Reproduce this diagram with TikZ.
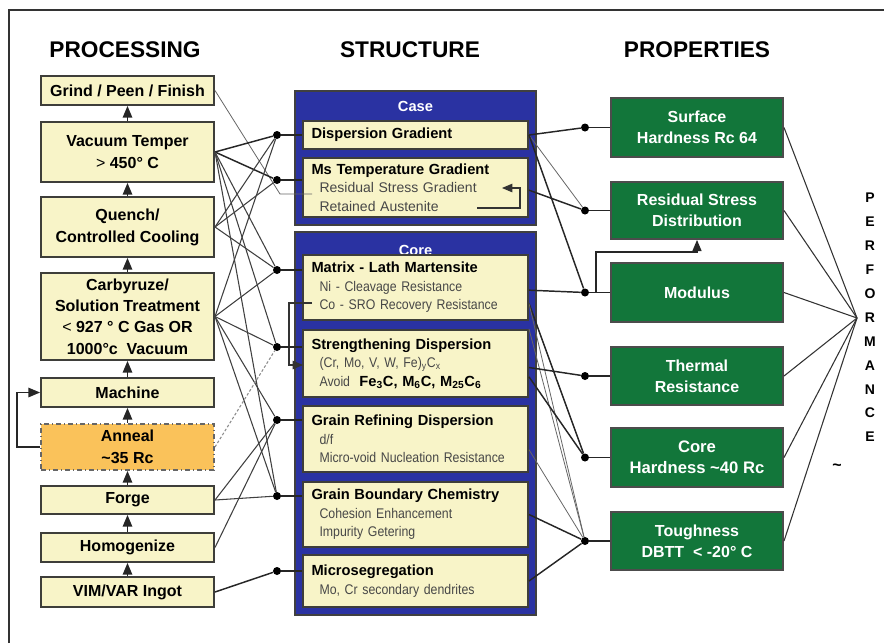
\documentclass[tikz,border=0pt]{standalone}
\usepackage{fontspec}
\setmainfont{Liberation Sans}
\newfontfamily\narrowfont[FakeStretch=0.88]{Liberation Sans}
\usetikzlibrary{arrows}

\definecolor{cream}{RGB}{248,244,200}
\definecolor{caseblue}{RGB}{42,50,162}
\definecolor{propgreen}{RGB}{18,118,58}
\definecolor{annealorange}{RGB}{250,194,90}
\definecolor{edgegray}{RGB}{62,62,58}

\tikzset{
  head/.style={font=\bfseries\fontsize{17}{19}\selectfont},
  procbox/.style={draw=edgegray, fill=cream, line width=1.5pt, minimum width=129.75pt,
    inner sep=0pt, align=center, font=\bfseries\fontsize{12}{16.5}\selectfont},
  bluebox/.style={draw=black!75, fill=caseblue, line width=1pt, minimum width=180.75pt, inner sep=0pt},
  strbox/.style={draw=edgegray, fill=cream, line width=1.5pt, minimum width=168.75pt,
    inner sep=0pt, text width=156pt, align=left, font=\fontsize{10.5}{13.8}\selectfont},
  propbox/.style={draw=black!70, fill=propgreen, line width=1.5pt, minimum width=129pt,
    inner sep=0pt, align=center, text=white, font=\bfseries\fontsize{12}{15.8}\selectfont},
  jdot/.style={circle, fill=black, inner sep=0pt, minimum size=6pt},
  thickwire/.style={line width=1.1pt, draw=black!85},
  thinwire/.style={line width=0.6pt, draw=black!60},
  uparrow/.style={-triangle 45, line width=1pt, draw=black!85},
}
\newcommand{\strhead}[1]{{\bfseries\fontsize{11}{13}\selectfont #1}}
\newcommand{\strsub}[1]{\hspace*{6pt}{\narrowfont\color{black!72}#1}}
\newcommand{\strsubw}[1]{\hspace*{6pt}{\color{black!72}#1}}

\begin{document}
\begin{tikzpicture}[x=0.75pt, y=-0.75pt]
  \useasboundingbox (0,0) rectangle (884,643);
  % frame
  \draw[line width=0.8pt, black!80] (9,643) -- (9,10) -- (884,10);

  % column titles
  \node[head] (proctitle) at (125,50) {PROCESSING};
  \node[head] (strtitle) at (410,50) {STRUCTURE};
  \node[head] (proptitle) at (697,50) {PROPERTIES};

  % processing steps
  \node[procbox, minimum height=21.75pt] (grind) at (127.5,90.5) {Grind / Peen / Finish};
  \node[procbox, minimum height=45pt] (temper) at (127.5,152) {Vacuum Temper\\{\mdseries >} 450° C};
  \node[procbox, minimum height=45pt] (quench) at (127.5,227) {Quench/\\Controlled Cooling};
  \node[procbox, minimum height=65.25pt, font=\bfseries\fontsize{12}{16}\selectfont] (carb) at (127.5,316.5)
    {Carbyruze/\\Solution Treatment\\{\mdseries <} 927 ° C Gas OR\\1000°c\ \ Vacuum};
  \node[procbox, minimum height=21.75pt] (machine) at (127.5,392.5) {Machine};
  \node[procbox, minimum height=34.5pt, fill=annealorange, draw=black!60,
    dash pattern=on 4pt off 2pt on 1pt off 2pt] (anneal) at (127.5,447) {Anneal\\\textasciitilde35 Rc};
  \node[procbox, minimum height=21pt] (forge) at (127.5,500) {Forge};
  \node[procbox, minimum height=21.75pt] (homog) at (127.5,547.5) {Homogenize};
  \node[procbox, minimum height=22.5pt] (vim) at (127.5,592) {VIM/VAR Ingot};

  \foreach \lo/\hi in {temper/grind, quench/temper, carb/quench, machine/carb,
                       anneal/machine, forge/anneal, homog/forge, vim/homog}
    \draw[uparrow] (\lo.north) -- (\hi.south);
  \draw[uparrow] (anneal.west) -- ++(-23,0) |- (machine.west);

  % structure
  \node[bluebox, minimum height=100.5pt] (case) at (415.5,158) {};
  \node[text=white, font=\bfseries\fontsize{11}{13}\selectfont] (casetitle) at (415.5,106) {Case};
  \node[bluebox, minimum height=287.25pt] (core) at (415.5,423.5) {};
  \node[text=white, font=\bfseries\fontsize{11}{13}\selectfont] (coretitle) at (415.5,250) {Core};

  \node[strbox, minimum height=21pt] (disp) at (415.5,135) {\strhead{Dispersion Gradient}};
  \node[strbox, minimum height=44.25pt] (ms) at (415.5,187.5)
    {\strhead{Ms Temperature Gradient}\\\strsubw{Residual Stress Gradient}\\\strsubw{Retained Austenite}};
  \node[strbox, minimum height=48.75pt] (matrix) at (415.5,287.5)
    {\strhead{Matrix - Lath Martensite}\\\strsub{Ni - Cleavage Resistance}\\\strsub{Co - SRO Recovery Resistance}};
  \node[strbox, minimum height=50.25pt] (strength) at (415.5,363.5)
    {\strhead{Strengthening Dispersion}\\\strsub{(Cr, Mo, V, W, Fe)\textsubscript{y}C\textsubscript{x}}\\%
     \strsub{Avoid}\ \ {\bfseries\fontsize{11}{13}\selectfont Fe\textsubscript{3}C, M\textsubscript{6}C, M\textsubscript{25}C\textsubscript{6}}};
  \node[strbox, minimum height=49.5pt] (grainref) at (415.5,439)
    {\strhead{Grain Refining Dispersion}\\\strsub{d/f}\\\strsub{Micro-void Nucleation Resistance}};
  \node[strbox, minimum height=48.75pt] (gb) at (415.5,514.5)
    {\strhead{Grain Boundary Chemistry}\\\strsub{Cohesion Enhancement}\\\strsub{Impurity Getering}};
  \node[strbox, minimum height=39pt] (micro) at (415.5,581)
    {\strhead{Microsegregation}\\\strsub{Mo, Cr secondary dendrites}};

  % small loops inside the structure column
  \coordinate (rsgtip) at (502,188);
  \coordinate (rsgturn) at (520,208);
  \coordinate (rastart) at (477,208);
  \draw[-triangle 45, line width=0.8pt, black!80] (rastart) -- (rsgturn) |- (rsgtip);
  \coordinate (costart) at (312,303);
  \coordinate (coturn) at (289,303);
  \coordinate (coend) at (303,365);
  \draw[-triangle 45, line width=0.8pt, black!80] (costart) -- (coturn) |- (coend);

  % properties
  \node[propbox, minimum height=44.25pt] (surf) at (697,127.5) {Surface\\Hardness Rc 64};
  \node[propbox, minimum height=42.75pt] (resid) at (697,210.5) {Residual Stress\\Distribution};
  \node[propbox, minimum height=44.25pt] (modulus) at (697,292.5) {Modulus};
  \node[propbox, minimum height=43.5pt] (thermal) at (697,376) {Thermal\\Resistance};
  \node[propbox, minimum height=44.25pt, font=\bfseries\fontsize{12.5}{16}\selectfont] (corehard) at (697,457.5)
    {Core\\Hardness \textasciitilde40 Rc};
  \node[propbox, minimum height=43.5pt] (tough) at (697,541) {Toughness\\DBTT\ \ < -20° C};

  % junction dots
  \foreach \n/\y in {dDisp/135, dMs/180, dMat/270, dStr/347, dGR/420, dGB/496, dMic/571}
    \node[jdot] (\n) at (277,\y) {};
  \foreach \n/\b in {pSurf/surf, pRes/resid, pMod/modulus, pTh/thermal, pCH/corehard, pTo/tough}
    \node[jdot] (\n) at (585,0 |- \b) {};

  % dots to boxes
  \foreach \d/\b in {dDisp/disp, dMs/ms, dMat/matrix, dStr/strength, dGR/grainref, dGB/gb, dMic/micro}
    \draw[thickwire] (\d) -- (\d -| \b.west);
  \foreach \d/\b in {pSurf/surf, pRes/resid, pMod/modulus, pTh/thermal, pCH/corehard, pTo/tough}
    \draw[thickwire] (\d) -- (\b.west);

  % processing to structure
  \coordinate (grindbend) at (280,194);
  \coordinate (grindend) at (312,194);
  \draw[thinwire] (grind.east) -- (grindbend) -- (grindend);
  \foreach \d in {dDisp, dMs}
    \draw[thickwire] (temper.east) -- (\d);
  \foreach \d in {dMat, dStr, dGB}
    \draw[thinwire, black!75, line width=0.8pt] (temper.east) -- (\d);
  \foreach \d in {dDisp, dMs, dMat}
    \draw[thinwire, black!75, line width=0.8pt] (quench.east) -- (\d);
  \foreach \d in {dDisp, dMat, dStr, dGR, dGB}
    \draw[thinwire, black!75, line width=0.8pt] (carb.east) -- (\d);
  \draw[black!45, line width=0.8pt, dash pattern=on 2pt off 1.5pt] (anneal.east) -- (dStr);
  \foreach \d in {dGR, dGB}
    \draw[thinwire, black!75, line width=0.8pt] (forge.east) -- (\d);
  \draw[thinwire, black!75, line width=0.8pt] (homog.east) -- (dGR);
  \draw[thickwire] (vim.east) -- (dMic);

  % structure to properties
  \draw[thickwire] (disp.east) -- (pSurf);
  \draw[thinwire] (disp.east) -- (pRes);
  \draw[thickwire] (disp.east) -- (pMod);
  \draw[thickwire] ([yshift=-2pt]ms.east) -- (pRes);
  \draw[thickwire] ([yshift=-2pt]matrix.east) -- (pMod);
  \draw[thickwire] ([yshift=-12pt]matrix.east) -- (pCH);
  \draw[thinwire] ([yshift=-12pt]matrix.east) -- (pTo);
  \draw[thinwire] (strength.north east) -- (pTo);
  \draw[thickwire] ([yshift=-3pt]strength.east) -- (pTh);
  \draw[thickwire] ([yshift=-10pt]strength.east) -- (pCH);
  \draw[thinwire] ([yshift=-8pt]grainref.east) -- (pTo);
  \draw[thickwire] (gb.east) -- (pTo);
  \draw[thickwire] (micro.east) -- (pTo);

  % modulus feeds residual stress
  \coordinate (modturn) at (596,252);
  \draw[uparrow, line width=0.9pt] (modturn |- pMod) -- (modturn) -| (resid.south);

  % performance
  \coordinate (fan) at (857,318);
  \foreach \b in {surf, resid, modulus, thermal, corehard, tough}
    \draw[line width=0.8pt, black!80] (\b.east) -- (fan);
  \foreach \ch [count=\i from 0] in {P,E,R,F,O,R,M,A,N,C,E}
    \node[font=\bfseries\fontsize{10.5}{12}\selectfont] (perf\i) at (870,198+23.9*\i) {\ch};
  \node[font=\bfseries\fontsize{12}{12}\selectfont] (tilde) at (837,467) {\textasciitilde};
\end{tikzpicture}
\end{document}
